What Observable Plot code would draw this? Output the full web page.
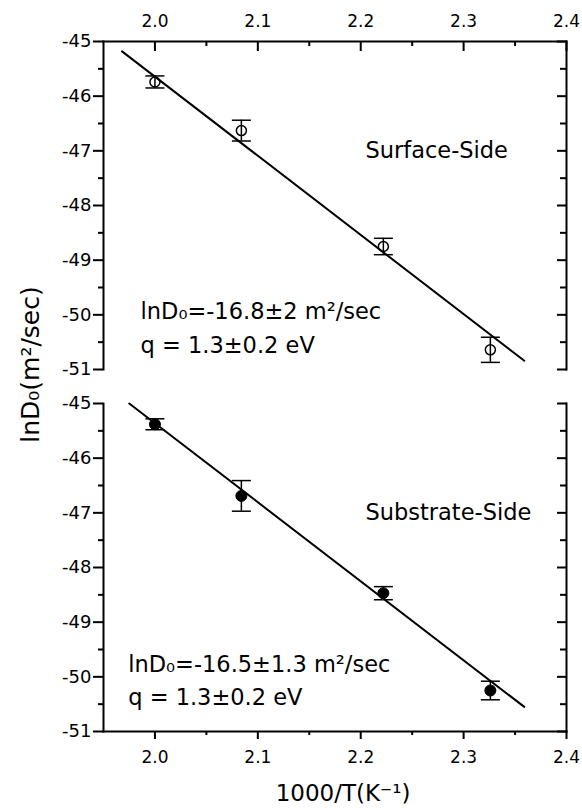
<!DOCTYPE html>
<html>
<head>
<meta charset="utf-8">
<script src="https://cdn.jsdelivr.net/npm/d3@7"></script>
<script src="https://cdn.jsdelivr.net/npm/@observablehq/plot@0.6"></script>
<style>
  body { margin: 0; background: #fff; }
  #chart svg { display: block; }
</style>
</head>
<body>
<div id="chart"></div>
<script>
// Diffusion prefactor vs. inverse temperature, two sides of the film
const panels = ["Surface-Side", "Substrate-Side"];
const invT = [2.0, 2.084, 2.222, 2.326];
const surfaceLnD = [-45.74, -46.63, -48.75, -50.64];
const surfaceErr = [0.11, 0.19, 0.15, 0.23];
const substrateLnD = [-45.38, -46.69, -48.47, -50.25];
const substrateErr = [0.10, 0.28, 0.12, 0.17];

// Arrhenius fit lines (end points)
const surfaceFitX = [1.968, 2.359];
const surfaceFitY = [-45.18, -50.84];
const substrateFitX = [1.975, 2.359];
const substrateFitY = [-45.0, -50.55];

const equations = ["lnD₀=-16.8±2 m²/sec", "lnD₀=-16.5±1.3 m²/sec"];
const activation = ["q = 1.3±0.2 eV", "q = 1.3±0.2 eV"];

const xTicks = [2.0, 2.1, 2.2, 2.3, 2.4];
const xMinor = [2.05, 2.15, 2.25, 2.35];
const yTicks = [-51, -50, -49, -48, -47, -46, -45];
const yMinor = [-50.5, -49.5, -48.5, -47.5, -46.5, -45.5];
const xTitle = "1000/T(K⁻¹)";
const yTitle = "lnD₀(m²/sec)";

// tables for the marks
const points = [
  ...invT.map((x, i) => ({panel: panels[0], x, y: surfaceLnD[i], err: surfaceErr[i]})),
  ...invT.map((x, i) => ({panel: panels[1], x, y: substrateLnD[i], err: substrateErr[i]}))
];
const fits = [
  ...surfaceFitX.map((x, i) => ({panel: panels[0], x, y: surfaceFitY[i]})),
  ...substrateFitX.map((x, i) => ({panel: panels[1], x, y: substrateFitY[i]}))
];
const notes = panels.map((p, i) => ({panel: p, text: equations[i] + "\n" + activation[i]}));
const panelNames = panels.map(p => ({panel: p}));

// horizontal error-bar cap
const cap = {draw(ctx) { ctx.moveTo(-9.5, 0); ctx.lineTo(9.5, 0); }};

const font = "'DejaVu Sans', Verdana, sans-serif";
const fmtX = d => d.toFixed(1);
const fmtY = d => String(d);

const chart = Plot.plot({
  width: 582,
  height: 808,
  marginLeft: 103,
  marginRight: 16,
  marginTop: 40,
  marginBottom: 77,
  style: {fontFamily: font, fontSize: "17px", color: "#000", background: "#fff", overflow: "visible"},
  x: {domain: [1.95, 2.4]},
  y: {domain: [-51, -45]},
  fy: {domain: panels, axis: null, paddingInner: 0.094, paddingOuter: 0},
  marks: [
    // axis lines
    Plot.frame({anchor: "left", strokeWidth: 2}),
    Plot.frame({anchor: "right", strokeWidth: 2}),
    Plot.frame({anchor: "top", facetAnchor: "top-empty", strokeWidth: 2}),
    Plot.frame({anchor: "bottom", facetAnchor: "bottom-empty", strokeWidth: 2}),

    // tick marks
    Plot.axisX({anchor: "top", ticks: xTicks, tickSize: -9, fill: "none", strokeWidth: 2, label: null}),
    Plot.axisX({anchor: "top", ticks: xMinor, tickSize: -4, fill: "none", strokeWidth: 2, label: null}),
    Plot.axisX({anchor: "bottom", ticks: xTicks, tickSize: 8, fill: "none", strokeWidth: 2, label: null}),
    Plot.axisX({anchor: "bottom", ticks: xMinor, tickSize: 4, fill: "none", strokeWidth: 2, label: null}),
    Plot.axisY({anchor: "left", ticks: yTicks, tickSize: 10, fill: "none", strokeWidth: 2, label: null}),
    Plot.axisY({anchor: "left", ticks: yMinor, tickSize: 5, fill: "none", strokeWidth: 2, label: null}),
    Plot.axisY({anchor: "right", ticks: yTicks, tickSize: -10, fill: "none", strokeWidth: 2, label: null}),
    Plot.axisY({anchor: "right", ticks: yMinor, tickSize: -7, fill: "none", strokeWidth: 2, label: null}),

    // tick labels
    Plot.axisX({anchor: "top", ticks: xTicks, tickSize: 0, tickPadding: 15, tickFormat: fmtX, label: null}),
    Plot.axisX({anchor: "bottom", ticks: xTicks, tickSize: 0, tickPadding: 19, tickFormat: fmtX, label: null}),
    Plot.axisY({anchor: "left", ticks: yTicks, tickSize: 0, tickPadding: 12, tickFormat: fmtY, fontSize: 18, label: null}),

    // fit lines
    Plot.line(fits, {x: "x", y: "y", fy: "panel", stroke: "#000", strokeWidth: 2}),

    // error bars
    Plot.ruleX(points, {x: "x", y1: d => d.y - d.err, y2: d => d.y + d.err, fy: "panel", stroke: "#000", strokeWidth: 1.5}),
    Plot.dot(points, {x: "x", y: d => d.y + d.err, fy: "panel", symbol: cap, r: 5, fill: "none", stroke: "#000", strokeWidth: 1.5}),
    Plot.dot(points, {x: "x", y: d => d.y - d.err, fy: "panel", symbol: cap, r: 5, fill: "none", stroke: "#000", strokeWidth: 1.5}),

    // data points: open on the surface side, filled on the substrate side
    Plot.dot(points.filter(d => d.panel === panels[0]), {x: "x", y: "y", fy: "panel", r: 5, fill: "none", stroke: "#000", strokeWidth: 1.5}),
    Plot.dot(points.filter(d => d.panel === panels[1]), {x: "x", y: "y", fy: "panel", r: 5.5, fill: "#000", stroke: "#000", strokeWidth: 1}),

    // panel names
    Plot.text(panelNames, {fy: "panel", x: 2.2046, y: -47.14, text: "panel", textAnchor: "start", lineAnchor: "bottom", fontSize: 22.5}),

    // fit parameters
    Plot.text(notes.filter(d => d.panel === panels[0]), {fy: "panel", x: 1.986, y: -50.70, text: "text", textAnchor: "start", lineAnchor: "bottom", lineHeight: 1.5, fontSize: 22.5}),
    Plot.text(notes.filter(d => d.panel === panels[1]), {fy: "panel", x: 1.974, y: -50.52, text: "text", textAnchor: "start", lineAnchor: "bottom", lineHeight: 1.5, fontSize: 22.5}),

    // axis titles
    Plot.text([xTitle], {facet: "super", frameAnchor: "bottom", text: d => d, dx: 8, dy: 69, textAnchor: "middle", lineAnchor: "bottom", fontSize: 23}),
    Plot.text([yTitle], {facet: "super", frameAnchor: "left", text: d => d, rotate: -90, dx: -73, dy: -22, textAnchor: "middle", lineAnchor: "middle", fontSize: 25})
  ]
});

document.getElementById("chart").append(chart);
</script>
</body>
</html>
